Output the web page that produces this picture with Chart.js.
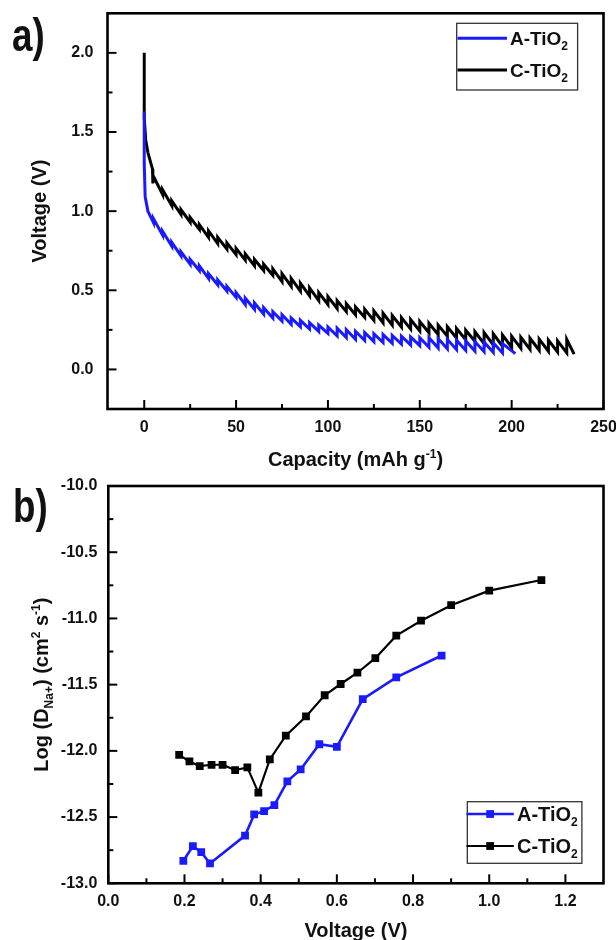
<!DOCTYPE html>
<html><head><meta charset="utf-8">
<script src="https://cdn.jsdelivr.net/npm/chart.js@4.4.1/dist/chart.umd.min.js"></script>
<style>
html,body{margin:0;padding:0;background:#fff;}
body{width:616px;height:940px;position:relative;overflow:hidden;}
canvas{position:absolute;left:0;}
#ca{top:0;} #cb{top:470px;}
</style></head><body>
<canvas id="ca" width="616" height="470"></canvas>
<canvas id="cb" width="616" height="470"></canvas>
<script>
// ---------- Panel a: voltage profile (GITT) ----------
const aTiO2Capacity = [0,0,0.5,2,
 5,5,10,10,15,15,20,20,25,25,30,30,35,35,40,40,45,45,50,50,
 55,55,60,60,65,65,70,70,75,75,80,80,85,85,90,90,95,95,100,100,
 105,105,110,110,115,115,120,120,125,125,130,130,135,135,140,140,145,145,150,150,
 155,155,160,160,165,165,170,170,175,175,180,180,185,185,190,190,195,195,
 202];
const aTiO2Voltage = [1.63,1.30,1.09,1.00,
 0.928,0.953,0.848,0.873,0.778,0.803,0.718,0.743,0.665,0.695,0.625,0.655,0.575,0.605,0.535,0.565,0.495,0.525,0.455,0.485,
 0.41,0.45,0.38,0.42,0.35,0.39,0.325,0.365,0.305,0.345,0.285,0.325,0.27,0.31,0.255,0.295,0.24,0.28,0.228,0.268,
 0.211,0.261,0.201,0.251,0.191,0.241,0.183,0.233,0.176,0.226,0.17,0.22,0.165,0.215,0.16,0.21,0.155,0.205,0.15,0.20,
 0.14,0.20,0.135,0.195,0.13,0.19,0.125,0.185,0.12,0.18,0.116,0.176,0.112,0.172,0.108,0.168,0.104,0.164,
 0.10];
const cTiO2Capacity = [0,0,0.8,2,4.5,4.7,5,
 10,10,15,15,20,20,25,25,30,30,35,35,40,40,45,45,50,50,55,55,60,60,65,65,70,70,
 75,75,80,80,85,85,90,90,95,95,100,100,105,105,110,110,115,115,120,120,
 125,125,130,130,135,135,140,140,145,145,150,150,155,155,160,160,165,165,170,170,175,175,180,180,
 185,185,190,190,195,195,200,200,205,205,210,210,215,215,220,220,225,225,230,230,
 234];
const cTiO2Voltage = [2.0,1.59,1.45,1.37,1.265,1.175,1.22,
 1.105,1.135,1.035,1.065,0.98,1.01,0.93,0.96,0.885,0.915,0.835,0.875,0.795,0.835,0.76,0.80,0.725,0.765,0.69,0.73,0.655,0.695,0.625,0.665,0.595,0.635,
 0.555,0.605,0.525,0.575,0.495,0.545,0.465,0.515,0.435,0.485,0.41,0.46,0.385,0.435,0.365,0.415,0.345,0.395,0.33,0.38,
 0.31,0.37,0.295,0.355,0.28,0.34,0.268,0.328,0.255,0.315,0.243,0.303,0.232,0.292,0.22,0.28,0.21,0.27,0.199,0.259,0.188,0.248,0.178,0.238,
 0.163,0.233,0.155,0.225,0.147,0.217,0.14,0.21,0.133,0.203,0.127,0.197,0.121,0.191,0.115,0.185,0.11,0.18,0.105,0.19,
 0.097];

// ---------- Panel b: diffusion coefficient ----------
const aTiO2PotentialB = [0.197,0.222,0.244,0.267,0.359,0.383,0.409,0.436,0.470,0.505,0.554,0.600,0.668,0.756,0.875];
const aTiO2LogD = [-12.83,-12.72,-12.765,-12.85,-12.64,-12.48,-12.455,-12.41,-12.23,-12.14,-11.95,-11.97,-11.61,-11.445,-11.28];
const cTiO2PotentialB = [0.186,0.213,0.240,0.271,0.300,0.333,0.365,0.394,0.424,0.466,0.519,0.568,0.610,0.654,0.701,0.756,0.821,0.900,1.000,1.137];
const cTiO2LogD = [-12.03,-12.08,-12.115,-12.105,-12.105,-12.145,-12.125,-12.315,-12.065,-11.885,-11.74,-11.58,-11.495,-11.41,-11.30,-11.13,-11.017,-10.90,-10.79,-10.71];

const seriesLabels = ['A-TiO2','C-TiO2'];

// tick values
const capTicks = [0,50,100,150,200,250];
const capMinor = [25,75,125,175,225];
const voltTicksA = [0,0.5,1.0,1.5,2.0];
const voltMinorA = [0.25,0.75,1.25,1.75];
const voltTicksB = [0,0.2,0.4,0.6,0.8,1.0,1.2];
const voltMinorB = [0.1,0.3,0.5,0.7,0.9,1.1];
const logDTicks = [-13,-12.5,-12,-11.5,-11,-10.5,-10];
const logDMinor = [-12.75,-12.25,-11.75,-11.25,-10.75,-10.25];

const BLUE = '#1a1aff';
const INK = '#111';
const FONT = '"Liberation Sans", Arial, sans-serif';
const zip = (xs, ys) => xs.map((x, i) => ({x, y: ys[i]}));

function partFont(kind, size) {
  return 'bold ' + (kind === 0 ? size : Math.round(size * 0.62)) + 'px ' + FONT;
}
function drawRich(ctx, parts, x, y, size, align) {
  let w = 0;
  parts.forEach(p => { ctx.font = partFont(p[1], size); w += ctx.measureText(p[0]).width; });
  let cx = align === 'center' ? x - w / 2 : x;
  ctx.textAlign = 'left';
  ctx.textBaseline = 'alphabetic';
  parts.forEach(p => {
    ctx.font = partFont(p[1], size);
    const dy = p[1] === 1 ? -0.42 * size : (p[1] === -1 ? 0.26 * size : 0);
    ctx.fillText(p[0], cx, y + dy);
    cx += ctx.measureText(p[0]).width;
  });
}

const decoPlugin = {
  id: 'deco',
  afterDraw(chart, args, o) {
    const ctx = chart.ctx, ca = chart.chartArea;
    const xs = chart.scales.x, ys = chart.scales.y;
    ctx.save();
    ctx.strokeStyle = '#000';
    ctx.lineCap = 'butt';
    ctx.lineWidth = 2;
    const tick = (px, py, dx, dy) => { ctx.beginPath(); ctx.moveTo(px, py); ctx.lineTo(px + dx, py + dy); ctx.stroke(); };
    o.xMajor.forEach(v => tick(xs.getPixelForValue(v), ca.bottom, 0, -9));
    o.xMinor.forEach(v => tick(xs.getPixelForValue(v), ca.bottom, 0, -5));
    o.yMajor.forEach(v => tick(ca.left, ys.getPixelForValue(v), 9, 0));
    o.yMinor.forEach(v => tick(ca.left, ys.getPixelForValue(v), 5, 0));
    ctx.lineWidth = 2.6;
    ctx.strokeRect(ca.left, ca.top, ca.right - ca.left, ca.bottom - ca.top);

    ctx.fillStyle = INK;
    // panel letter
    ctx.save();
    ctx.translate(o.letter.x, o.letter.y);
    ctx.scale(0.8, 1);
    ctx.font = 'bold 46px ' + FONT;
    ctx.textAlign = 'left'; ctx.textBaseline = 'alphabetic';
    ctx.fillText(o.letter.text, 0, 0);
    ctx.restore();

    // axis titles
    drawRich(ctx, o.xTitle.parts, (ca.left + ca.right) / 2, o.xTitle.y, 20, 'center');
    ctx.save();
    ctx.translate(o.yTitle.x, (ca.top + ca.bottom) / 2);
    ctx.rotate(-Math.PI / 2);
    drawRich(ctx, o.yTitle.parts, 0, 0, 20, 'center');
    ctx.restore();

    // legend
    const L = o.legend;
    ctx.lineWidth = 1.3;
    ctx.strokeStyle = '#333';
    ctx.strokeRect(L.x0, L.y0, L.x1 - L.x0, L.y1 - L.y0);
    chart.data.datasets.forEach((ds, i) => {
      const y = L.rows[i];
      ctx.strokeStyle = ds.borderColor;
      ctx.lineWidth = ds.borderWidth;
      ctx.beginPath(); ctx.moveTo(L.lineX0, y); ctx.lineTo(L.lineX1, y); ctx.stroke();
      if (ds.pointRadius > 0) {
        const s = ds.pointRadius * Math.SQRT1_2;
        ctx.fillStyle = ds.borderColor;
        ctx.fillRect((L.lineX0 + L.lineX1) / 2 - s, y - s, 2 * s, 2 * s);
      }
      ctx.fillStyle = INK;
      const lab = ds.label;
      drawRich(ctx, [[lab.slice(0, -1), 0], [lab.slice(-1), -1]], L.textX, y + L.font * 0.36, L.font, 'left');
    });
    ctx.restore();
  }
};

function axis(min, max, ticks, fmt, fitFn, pad) {
  return {
    type: 'linear', min, max,
    afterBuildTicks: s => { s.ticks = ticks.map(v => ({value: v})); },
    afterFit: s => { fitFn(s); s.paddingLeft = 0; s.paddingRight = 0; s.paddingTop = 0; s.paddingBottom = 0; },
    grid: {display: false, drawTicks: false},
    border: {display: false},
    ticks: {autoSkip: false, maxRotation: 0, minRotation: 0, padding: pad, color: INK,
            font: {family: FONT, size: 16, weight: 'bold'}, callback: fmt}
  };
}

const common = {
  responsive: false, animation: false, devicePixelRatio: 1,
  events: []
};

new Chart(document.getElementById('ca'), {
  type: 'scatter',
  data: {datasets: [
    {label: seriesLabels[0], data: zip(aTiO2Capacity, aTiO2Voltage), showLine: true,
     borderColor: BLUE, backgroundColor: BLUE, borderWidth: 3, pointRadius: 0, tension: 0},
    {label: seriesLabels[1], data: zip(cTiO2Capacity, cTiO2Voltage), showLine: true,
     borderColor: '#000', backgroundColor: '#000', borderWidth: 3, pointRadius: 0, tension: 0}
  ]},
  options: Object.assign({}, common, {
    layout: {padding: {left: 0, right: 12.5, top: 13.3, bottom: 0}},
    plugins: {
      legend: {display: false}, tooltip: {enabled: false},
      deco: {
        xMajor: capTicks, xMinor: capMinor, yMajor: voltTicksA, yMinor: voltMinorA,
        letter: {text: 'a)', x: 12, y: 51},
        xTitle: {parts: [['Capacity (mAh g', 0], ['-1', 1], [')', 0]], y: 466},
        yTitle: {parts: [['Voltage (V)', 0]], x: 46},
        legend: {x0: 456.7, y0: 23.3, x1: 577.6, y1: 90, rows: [38.3, 70], lineX0: 457.5, lineX1: 507, textX: 510, font: 19}
      }
    },
    scales: {
      x: axis(-20, 250, capTicks, v => String(v), s => { s.height = 61; }, 9),
      y: axis(-0.25, 2.25, voltTicksA, v => v.toFixed(1), s => { s.width = 107.5; }, 14)
    }
  }),
  plugins: [decoPlugin]
});

new Chart(document.getElementById('cb'), {
  type: 'scatter',
  data: {datasets: [
    {label: seriesLabels[0], data: zip(aTiO2PotentialB, aTiO2LogD), showLine: true,
     borderColor: BLUE, backgroundColor: BLUE, borderWidth: 2.6, pointStyle: 'rect', pointRadius: 5.5,
     pointBorderWidth: 0, tension: 0},
    {label: seriesLabels[1], data: zip(cTiO2PotentialB, cTiO2LogD), showLine: true,
     borderColor: '#000', backgroundColor: '#000', borderWidth: 2.2, pointStyle: 'rect', pointRadius: 5.5,
     pointBorderWidth: 0, tension: 0}
  ]},
  options: Object.assign({}, common, {
    layout: {padding: {left: 0, right: 12.5, top: 16, bottom: 0}},
    plugins: {
      legend: {display: false}, tooltip: {enabled: false},
      deco: {
        xMajor: voltTicksB, xMinor: voltMinorB, yMajor: logDTicks, yMinor: logDMinor,
        letter: {text: 'b)', x: 13, y: 52},
        xTitle: {parts: [['Voltage (V)', 0]], y: 467},
        yTitle: {parts: [['Log (D', 0], ['Na+', -1], [') (cm', 0], ['2', 1], [' s', 0], ['-1', 1], [')', 0]], x: 48},
        legend: {x0: 467.3, y0: 331.7, x1: 581.9, y1: 393.3, rows: [344, 376], lineX0: 466.5, lineX1: 513.8, textX: 517, font: 20}
      }
    },
    scales: {
      x: axis(0, 1.3, voltTicksB, v => v.toFixed(1), s => { s.height = 56.7; }, 9),
      y: axis(-13, -10, logDTicks, v => v.toFixed(1), s => { s.width = 108.3; }, 11)
    }
  }),
  plugins: [decoPlugin]
});
</script>
</body></html>
